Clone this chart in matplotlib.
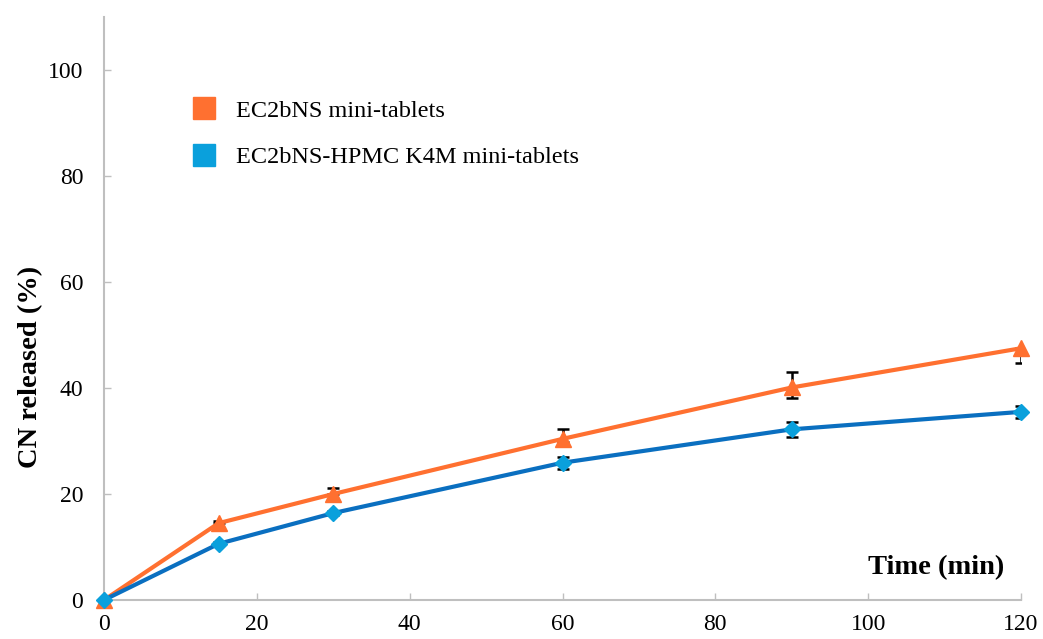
import matplotlib
matplotlib.use("Agg")
import matplotlib.pyplot as plt
from matplotlib.lines import Line2D

time_min = [0, 15, 30, 60, 90, 120]
ec2bns = [0, 14.5, 20.0, 30.4, 40.1, 47.5]
ec2bns_err_low = [0, 0.0, 0.0, 0.5, 2.0, 2.8]
ec2bns_err_up = [0, 0.5, 1.1, 1.9, 2.9, 0.0]
hpmc = [0, 10.6, 16.4, 25.9, 32.2, 35.5]
hpmc_err = [0, 0.3, 0.4, 1.1, 1.4, 1.1]
series_labels = ["EC2bNS mini-tablets", "EC2bNS-HPMC K4M mini-tablets"]
x_ticks = [0, 20, 40, 60, 80, 100, 120]
y_ticks = [0, 20, 40, 60, 80, 100]

plt.rcParams['font.family'] = ['Liberation Serif', 'DejaVu Serif']

orange = '#FF7030'
blue_line = '#0A6FC0'
blue_mark = '#0AA0DC'
gray = '#BFBFBF'

fig = plt.figure(figsize=(10.43, 6.39), dpi=100)
ax = fig.add_axes([104/1043, 39/639, 917/1043, 583/639])

ax.errorbar(time_min, ec2bns, yerr=[ec2bns_err_low, ec2bns_err_up], fmt='none',
            ecolor='black', elinewidth=1.8, capsize=4, capthick=1.8, zorder=2)
ax.errorbar(time_min, hpmc, yerr=hpmc_err, fmt='none',
            ecolor='black', elinewidth=1.8, capsize=4, capthick=1.8, zorder=2)
ax.plot(time_min, ec2bns, color=orange, lw=3, marker='^', ms=11,
        markerfacecolor=orange, markeredgecolor=orange, zorder=3, clip_on=False)
ax.plot(time_min, hpmc, color=blue_line, lw=3, marker='D', ms=8,
        markerfacecolor=blue_mark, markeredgecolor=blue_mark, zorder=3, clip_on=False)

ax.set_xlim(0, 120)
ax.set_ylim(0, 110)
ax.set_xticks(x_ticks)
ax.set_yticks(y_ticks)
for s in ['top', 'right']:
    ax.spines[s].set_visible(False)
for s in ['left', 'bottom']:
    ax.spines[s].set_color(gray)
    ax.spines[s].set_linewidth(1.5)
ax.tick_params(axis='both', direction='in', length=5, width=1, color=gray,
               labelsize=17, labelcolor='black')
ax.tick_params(axis='x', pad=10)
ax.tick_params(axis='y', pad=15)

ax.set_ylabel("CN released (%)", fontsize=20.5, fontweight='bold')
ax.yaxis.set_label_coords(-0.066, 0.40)
ax.text(0.982, 0.055, "Time (min)", transform=ax.transAxes, ha='right', va='center',
        fontsize=20.5, fontweight='bold')

handles = [Line2D([], [], ls='none', marker='s', ms=16, color=orange),
           Line2D([], [], ls='none', marker='s', ms=16, color=blue_mark)]
ax.legend(handles, series_labels, loc='upper left', bbox_to_anchor=(0.096, 0.858),
          frameon=False, fontsize=17.5, handlelength=1.0, handletextpad=0.8,
          labelspacing=1.0, borderpad=0, borderaxespad=0)

fig.savefig("out.png", dpi=100)
